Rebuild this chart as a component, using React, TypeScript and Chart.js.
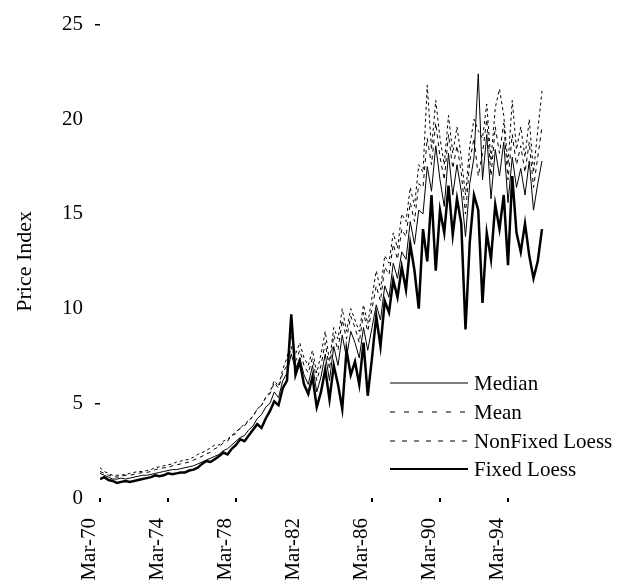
import React, { useEffect, useRef } from "react";
import { Chart, registerables } from "chart.js";

Chart.register(...registerables);

// Quarterly observations, Mar-70 (index 0) to Mar-96 (index 104)
const fixedLoess = [
  1.0, 1.1, 0.95, 0.9,
  0.8, 0.85, 0.9, 0.85,
  0.9, 0.95, 1.0, 1.05,
  1.1, 1.2, 1.15, 1.2,
  1.3, 1.25, 1.3, 1.35,
  1.35, 1.45, 1.5, 1.6,
  1.8, 1.95, 1.9, 2.05,
  2.2, 2.4, 2.3, 2.6,
  2.8, 3.1, 3.0, 3.3,
  3.6, 3.9, 3.7, 4.2,
  4.6, 5.1, 4.9, 5.8,
  6.2, 9.7, 6.5, 7.2,
  6.0, 5.5, 6.4, 4.8,
  5.6, 6.8, 5.2, 7.0,
  6.0, 4.7, 7.8, 6.5,
  7.2, 6.0, 8.2, 5.4,
  7.4, 9.6, 8.0, 10.4,
  9.8, 11.5, 10.6, 12.2,
  11.0, 13.4, 12.0, 10.0,
  14.2, 12.5, 16.0, 12.0,
  15.2, 14.0, 16.5, 13.9,
  15.8, 14.5, 8.9, 13.5,
  16.0, 15.2, 10.3, 14.0,
  12.6, 15.5, 14.2, 16.0,
  12.3, 17.0, 14.0, 13.0,
  14.5, 12.8, 11.6, 12.5,
  14.2,
];

const median = [
  1.3, 1.2, 1.1, 1.0,
  1.0, 1.05, 1.0, 1.05,
  1.1, 1.15, 1.2, 1.2,
  1.25, 1.3, 1.35, 1.4,
  1.45, 1.5, 1.5, 1.55,
  1.6, 1.65, 1.7, 1.8,
  1.9, 2.0, 2.1, 2.2,
  2.3, 2.5, 2.6, 2.8,
  3.0, 3.2, 3.3, 3.6,
  3.8, 4.2, 4.4, 4.8,
  5.0, 5.6, 5.3, 6.2,
  6.6, 7.6, 6.8, 7.4,
  6.5, 6.0, 7.0, 5.6,
  6.4, 7.6, 6.2, 8.0,
  7.0, 8.6, 7.4, 8.8,
  8.2, 7.4, 9.0, 7.8,
  9.0, 10.2, 9.4, 11.2,
  10.6, 12.4, 11.6, 13.0,
  12.6, 14.6, 13.4, 15.2,
  15.0, 17.5, 16.2, 18.6,
  16.8, 15.4, 18.2, 16.0,
  17.6, 16.2, 13.8, 16.6,
  18.0, 22.4, 16.8, 19.2,
  15.8, 18.4, 17.0, 18.8,
  15.6, 18.0, 16.4, 17.4,
  16.0, 17.8, 15.2, 16.6,
  17.8,
];

const mean = [
  1.4, 1.3, 1.2, 1.15,
  1.1, 1.15, 1.2, 1.2,
  1.25, 1.3, 1.35, 1.35,
  1.4, 1.5, 1.55, 1.6,
  1.6, 1.7, 1.75, 1.8,
  1.85, 1.9, 2.0, 2.1,
  2.2, 2.35, 2.4, 2.6,
  2.7, 2.9, 3.0, 3.3,
  3.4, 3.7, 3.8, 4.1,
  4.3, 4.7, 4.9, 5.3,
  5.5, 6.1, 5.8, 6.6,
  7.0, 8.0, 7.2, 7.8,
  7.0, 6.6, 7.4, 6.2,
  7.0, 8.2, 6.8, 8.6,
  7.8, 9.4, 8.4, 9.6,
  9.0, 8.2, 9.8, 8.8,
  10.0, 11.2, 10.4, 12.2,
  11.8, 13.4, 12.6, 14.2,
  13.8, 15.6, 14.6, 16.6,
  16.4, 19.0, 17.6, 19.8,
  18.0, 16.8, 19.2, 17.4,
  18.6, 17.2, 15.0, 17.8,
  19.0, 17.0, 18.2, 20.0,
  17.0, 19.6, 18.2, 19.8,
  16.8, 19.2, 17.6, 18.6,
  17.2, 18.8, 16.4, 18.0,
  19.6,
];

const nonFixedLoess = [
  1.6, 1.4, 1.3, 1.2,
  1.2, 1.2, 1.25, 1.3,
  1.35, 1.4, 1.4, 1.45,
  1.5, 1.6, 1.65, 1.7,
  1.75, 1.8, 1.9, 1.95,
  2.0, 2.05, 2.15, 2.3,
  2.4, 2.5, 2.65, 2.8,
  2.8, 3.0, 3.1, 3.3,
  3.5, 3.7, 3.9, 4.1,
  4.3, 4.7, 4.9, 5.3,
  5.6, 6.2, 5.9, 6.8,
  7.4, 8.6, 7.6, 8.2,
  7.4, 7.0, 7.8, 6.6,
  7.6, 8.8, 7.2, 9.0,
  8.4, 10.0, 8.8, 10.0,
  9.4, 8.8, 10.2, 9.2,
  10.6, 12.0, 11.0, 12.8,
  12.4, 14.0, 13.2, 15.0,
  14.6, 16.4, 15.4, 17.6,
  17.2, 21.8, 18.4, 21.0,
  19.0, 17.6, 20.2, 18.2,
  19.6, 18.0, 16.0, 18.6,
  20.0, 19.4, 19.0, 20.8,
  17.8, 20.6, 21.6, 20.2,
  17.6, 21.0, 18.4, 19.6,
  18.0, 20.0, 17.2, 19.4,
  21.5,
];

const seriesNames = ["Median", "Mean", "NonFixed Loess", "Fixed Loess"];
const xTickLabels = ["Mar-70", "Mar-74", "Mar-78", "Mar-82", "Mar-86", "Mar-90", "Mar-94"];
const xTickPositions = [0, 16, 32, 48, 64, 80, 96];
const yTickValues = [0, 5, 10, 15, 20, 25];
const yTitle = "Price Index";

const FONT = "'Liberation Serif', 'Times New Roman', serif";

const legendStyles = [
  { dash: [] as number[], width: 1 },
  { dash: [5, 9], width: 1.2 },
  { dash: [5, 7], width: 1.2 },
  { dash: [] as number[], width: 2 },
];

const legendPlugin = {
  id: "inlineLegend",
  afterDraw(chart: any) {
    const ctx = chart.ctx;
    const rows = [383, 412, 441, 469];
    ctx.save();
    ctx.font = `21px ${FONT}`;
    ctx.fillStyle = "#000";
    ctx.textBaseline = "middle";
    ctx.textAlign = "left";
    seriesNames.forEach((name, i) => {
      const y = rows[i];
      ctx.beginPath();
      ctx.setLineDash(legendStyles[i].dash);
      ctx.lineWidth = legendStyles[i].width;
      ctx.strokeStyle = "#000";
      ctx.moveTo(390, y);
      ctx.lineTo(468, y);
      ctx.stroke();
      ctx.setLineDash([]);
      ctx.fillText(name, 474, y + 1);
    });
    ctx.restore();
  },
};

export default function App() {
  const ref = useRef<HTMLCanvasElement | null>(null);

  useEffect(() => {
    if (!ref.current) return;
    const toPts = (arr: number[]) => arr.map((v, i) => ({ x: i, y: v }));
    const chart = new Chart(ref.current, {
      type: "line",
      data: {
        datasets: [
          {
            label: seriesNames[0],
            data: toPts(median),
            borderColor: "#000",
            borderWidth: 1,
            pointRadius: 0,
          },
          {
            label: seriesNames[1],
            data: toPts(mean),
            borderColor: "#000",
            borderWidth: 1,
            borderDash: [4, 4],
            pointRadius: 0,
          },
          {
            label: seriesNames[2],
            data: toPts(nonFixedLoess),
            borderColor: "#000",
            borderWidth: 1,
            borderDash: [3, 3],
            pointRadius: 0,
          },
          {
            label: seriesNames[3],
            data: toPts(fixedLoess),
            borderColor: "#000",
            borderWidth: 2.5,
            pointRadius: 0,
          },
        ],
      },
      options: {
        animation: false,
        responsive: false,
        maintainAspectRatio: false,
        layout: { padding: { top: 23, right: 82, left: 0, bottom: 0 } },
        plugins: {
          legend: { display: false },
          tooltip: { enabled: false },
        },
        scales: {
          x: {
            type: "linear",
            min: 0,
            max: 108,
            border: { display: false },
            grid: {
              drawOnChartArea: false,
              drawTicks: true,
              tickLength: 4,
              lineWidth: 2,
              color: (c: any) => (c.tick && c.tick.value === 48 ? "rgba(0,0,0,0)" : "#000"),
            },
            afterBuildTicks: (scale: any) => {
              scale.ticks = xTickPositions.map((v) => ({ value: v }));
            },
            afterFit: (scale: any) => {
              scale.height = 86;
            },
            ticks: {
              autoSkip: false,
              maxRotation: 90,
              minRotation: 90,
              padding: 16,
              labelOffset: -11,
              color: "#000",
              font: { family: FONT, size: 21 },
              callback: (value: any) => {
                const idx = xTickPositions.indexOf(Number(value));
                return idx >= 0 ? xTickLabels[idx] : "";
              },
            },
          },
          y: {
            type: "linear",
            min: 0,
            max: 25,
            border: { display: false },
            grid: {
              drawOnChartArea: false,
              drawTicks: true,
              tickLength: 5,
              lineWidth: 1.5,
              color: (c: any) =>
                c.tick && (c.tick.value === 25 || c.tick.value === 5) ? "#000" : "rgba(0,0,0,0)",
            },
            afterBuildTicks: (scale: any) => {
              scale.ticks = yTickValues.map((v) => ({ value: v }));
            },
            afterFit: (scale: any) => {
              scale.width = 100;
            },
            title: {
              display: true,
              text: yTitle,
              color: "#000",
              font: { family: FONT, size: 22 },
              padding: { top: 12, bottom: 0 },
            },
            ticks: {
              padding: 12,
              color: "#000",
              font: { family: FONT, size: 21 },
            },
          },
        },
      },
      plugins: [legendPlugin],
    });
    return () => chart.destroy();
  }, []);

  return (
    <div style={{ position: "absolute", left: 0, top: 0, width: 641, height: 584, background: "#fff" }}>
      <canvas ref={ref} width={641} height={584} />
    </div>
  );
}
